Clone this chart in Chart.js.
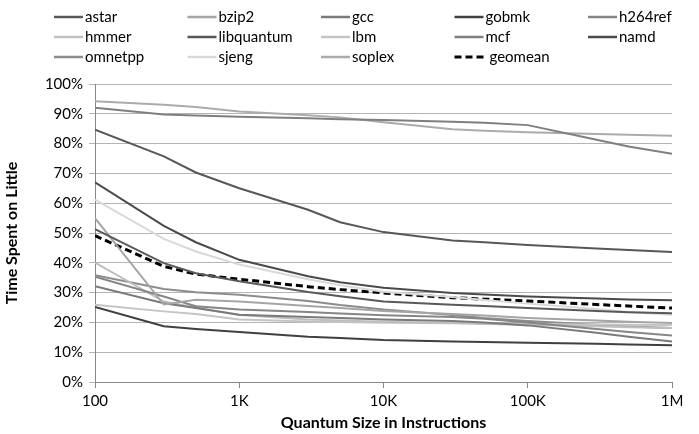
<!DOCTYPE html>
<html>
<head>
<meta charset="utf-8">
<script src="https://cdn.jsdelivr.net/npm/chart.js@4/dist/chart.umd.min.js"></script>
<style>
  html, body { margin: 0; padding: 0; background: #fff; }
  #wrap { width: 699px; height: 434px; }
</style>
</head>
<body>
<div id="wrap"><canvas id="quantum-chart" width="699" height="434"></canvas></div>
<script>
// quantum sizes (instructions) where each benchmark was measured
const quantumSizes = [100, 300, 500, 1000, 3000, 5000, 10000, 30000, 50000, 100000, 300000, 500000, 1000000];

// x axis decade ticks and their labels
const xTickValues = [100, 1000, 10000, 100000, 1000000];
const xTickLabels = ["100", "1K", "10K", "100K", "1M"];

// % of time spent on the little core
const astar      = [51.3, 39.9, 36.5, 33.8, 30.2, 28.8, 27.0, 25.9, 25.5, 24.8, 23.8, 23.4, 23.1];
const bzip2      = [55.0, 26.0, 27.6, 27.0, 25.5, 24.8, 23.8, 22.8, 22.3, 21.5, 20.6, 20.2, 19.8];
const gcc        = [32.1, 26.4, 24.8, 22.6, 21.8, 21.5, 21.0, 20.5, 20.0, 19.0, 16.5, 15.2, 13.6];
const gobmk      = [25.2, 18.7, 17.8, 16.8, 15.2, 14.8, 14.1, 13.6, 13.4, 13.2, 12.8, 12.6, 12.3];
const h264ref    = [35.3, 28.7, 25.4, 24.3, 23.5, 23.0, 22.4, 21.8, 21.2, 20.0, 17.8, 16.8, 15.6];
const hmmer      = [40.1, 27.0, 25.0, 22.5, 21.0, 20.6, 20.2, 19.8, 19.5, 19.2, 18.7, 18.4, 18.1];
const libquantum = [84.7, 75.7, 70.3, 65.0, 57.8, 53.6, 50.3, 47.5, 46.9, 46.0, 44.8, 44.3, 43.6];
const lbm        = [25.9, 23.7, 22.8, 21.0, 20.3, 20.1, 19.9, 19.7, 19.6, 19.5, 19.3, 19.2, 19.1];
const mcf        = [92.0, 89.8, 89.4, 89.0, 88.5, 88.2, 87.9, 87.3, 87.0, 86.2, 81.3, 79.0, 76.6];
const namd       = [67.0, 52.4, 46.9, 41.0, 35.5, 33.5, 31.6, 29.9, 29.4, 28.7, 28.0, 27.7, 27.4];
const omnetpp    = [35.8, 31.2, 30.1, 29.3, 27.2, 25.8, 24.3, 22.5, 21.5, 20.5, 19.2, 18.6, 18.1];
const sjeng      = [61.2, 48.0, 43.8, 39.4, 34.5, 32.5, 30.3, 28.5, 27.5, 26.3, 24.5, 23.5, 22.6];
const soplex     = [94.2, 93.0, 92.3, 90.8, 89.5, 88.8, 87.2, 84.8, 84.3, 83.8, 83.2, 83.0, 82.6];
const geomean    = [49.1, 38.8, 36.2, 34.5, 32.0, 31.0, 29.9, 28.3, 27.8, 27.2, 26.0, 25.5, 24.8];

const series = [
  { label: "astar", values: astar, color: "#595959" },
  { label: "bzip2", values: bzip2, color: "#a5a5a5" },
  { label: "gcc", values: gcc, color: "#7a7a7a" },
  { label: "gobmk", values: gobmk, color: "#404040" },
  { label: "h264ref", values: h264ref, color: "#868686" },
  { label: "hmmer", values: hmmer, color: "#bfbfbf" },
  { label: "libquantum", values: libquantum, color: "#575757" },
  { label: "lbm", values: lbm, color: "#c4c4c4" },
  { label: "mcf", values: mcf, color: "#7f7f7f" },
  { label: "namd", values: namd, color: "#4a4a4a" },
  { label: "omnetpp", values: omnetpp, color: "#8c8c8c" },
  { label: "sjeng", values: sjeng, color: "#d9d9d9" },
  { label: "soplex", values: soplex, color: "#ababab" },
  { label: "geomean", values: geomean, color: "#000000", dash: [7, 4] },
];

const FONT = "Lato, 'Open Sans', sans-serif";

// legend in a 5-column grid above the plot
const gridLegend = {
  id: "gridLegend",
  afterDraw(chart) {
    const ctx = chart.ctx;
    ctx.save();
    ctx.font = "15px " + FONT;
    ctx.textBaseline = "middle";
    chart.data.datasets.forEach((ds, i) => {
      const col = i % 5;
      const row = Math.floor(i / 5);
      const x = 54 + col * 133.5;
      const y = 17 + row * 20;
      ctx.strokeStyle = ds.borderColor;
      ctx.lineWidth = ds.borderDash ? 3 : 2.5;
      ctx.setLineDash(ds.borderDash || []);
      ctx.beginPath();
      ctx.moveTo(x, y);
      ctx.lineTo(x + 29, y);
      ctx.stroke();
      ctx.setLineDash([]);
      ctx.fillStyle = "#000";
      ctx.fillText(ds.label, x + 31 + (ds.borderDash ? 4 : 0), y);
    });
    ctx.restore();
  },
};

const chart = new Chart(document.getElementById("quantum-chart"), {
  type: "line",
  data: {
    datasets: series.map((s) => ({
      label: s.label,
      data: quantumSizes.map((q, i) => ({ x: q, y: s.values[i] })),
      borderColor: s.color,
      backgroundColor: s.color,
      borderWidth: s.dash ? 3 : 2,
      borderDash: s.dash,
      pointRadius: 0,
      tension: 0,
      fill: false,
    })),
  },
  options: {
    responsive: false,
    animation: false,
    layout: { padding: { top: 84, right: 27, left: 0, bottom: 0 } },
    plugins: { legend: { display: false }, tooltip: { enabled: false } },
    scales: {
      x: {
        type: "logarithmic",
        min: 100,
        max: 1000000,
        afterBuildTicks(scale) {
          scale.ticks = xTickValues.map((v) => ({ value: v }));
        },
        afterFit(scale) {
          scale.height = 52;
        },
        ticks: {
          autoSkip: false,
          maxRotation: 0,
          padding: 4,
          color: "#000",
          font: { family: FONT, size: 15 },
          callback: (v) => xTickLabels[xTickValues.indexOf(v)],
        },
        grid: {
          drawOnChartArea: false,
          tickLength: 6,
          color: "#878787",
        },
        border: { color: "#878787", width: 1 },
        title: {
          display: true,
          text: "Quantum Size in Instructions",
          color: "#000",
          font: { family: FONT, size: 16, weight: "bold" },
          padding: { top: 0, bottom: 2 },
        },
      },
      y: {
        min: 0,
        max: 100,
        afterFit(scale) {
          scale.width = 95;
        },
        ticks: {
          stepSize: 10,
          padding: 6,
          color: "#000",
          font: { family: FONT, size: 15 },
          callback: (v) => v + "%",
        },
        grid: {
          color: "#b4b4b4",
          tickLength: 6,
        },
        border: { color: "#878787", width: 1 },
        title: {
          display: true,
          text: "Time Spent on Little",
          color: "#000",
          font: { family: FONT, size: 16, weight: "bold" },
          padding: { top: 2, bottom: 0 },
        },
      },
    },
  },
  plugins: [gridLegend],
});
</script>
</body>
</html>
